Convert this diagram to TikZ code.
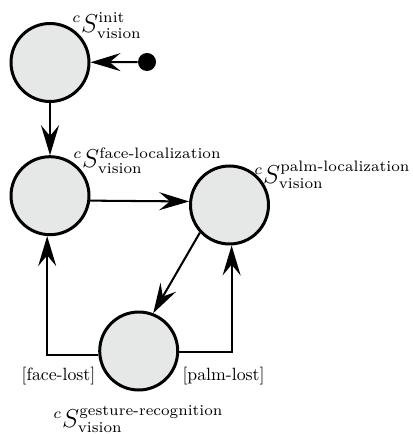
\documentclass[tikz,border=0pt]{standalone}
\usepackage{amsmath}
\usetikzlibrary{arrows.meta}
% large state symbol with small index texts
\DeclareMathSizes{12}{12}{7}{5}
\definecolor{statefill}{RGB}{230,231,231}
\begin{document}
\begin{tikzpicture}[x=0.4167pt,y=-0.4167pt,
  state/.style={circle,draw,line width=1.25pt,fill=statefill,minimum size=32.5pt,inner sep=0pt},
  startdot/.style={circle,fill=black,minimum size=7.5pt,inner sep=0pt},
  trans/.style={line width=0.85pt,-{Stealth[length=12.5pt,width=7.5pt,inset=4.5pt]}},
  statelabel/.style={anchor=north west,inner sep=0pt,scale=0.9,font=\fontsize{12}{14}\selectfont},
  guard/.style={inner sep=0pt,scale=0.74}]
\useasboundingbox (0,0) rectangle (412,434);

% states
\node[state] (init) at (50,62.5) {};
\node[state] (face) at (50,195.7) {};
\node[state] (palm) at (229.5,205) {};
\node[state] (gest) at (138.7,351) {};
\node[startdot] (start) at (147,62) {};

% state names
\node[statelabel] (linit) at (72,12.5) {$^{c}S^{\text{init}}_{\text{vision}}$};
\node[statelabel] (lface) at (73,147) {$^{c}S^{\text{face-localization}}_{\text{vision}}$};
\node[statelabel] (lpalm) at (254,161) {$^{c}S^{\text{palm-localization}}_{\text{vision}}$};
\node[statelabel] (lgest) at (53,405) {$^{c}S^{\text{gesture-recognition}}_{\text{vision}}$};

% transitions
\draw[trans] (start) -- (init);
\draw[trans] (init) -- (face);
\draw[trans] (face.-7.6) -- (palm.175.7);
\draw[trans] (palm.223) -- (gest.69.6);
\draw[trans] (gest.185.6) -| (face.266);
\draw[trans] (gest.-2.4) -| (palm.-87);

% guards
\node[guard] (gface) at (58.5,376) {[face-lost]};
\node[guard] (gpalm) at (223.5,376) {[palm-lost]};
\end{tikzpicture}
\end{document}
